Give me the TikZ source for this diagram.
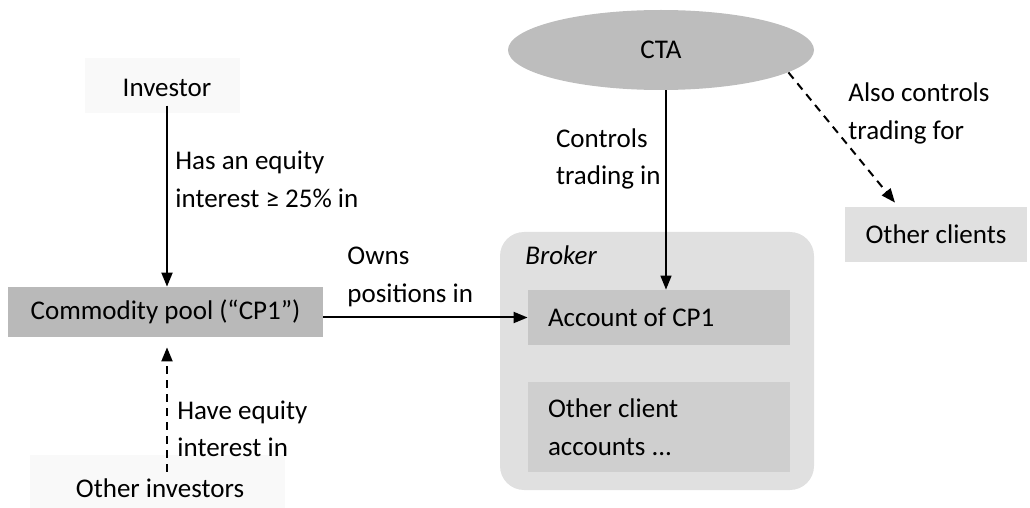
\documentclass[tikz,border=0pt]{standalone}
\usepackage{fontspec}
\setmainfont{Carlito}
\usetikzlibrary{arrows.meta,shapes.geometric}

\tikzset{
  lbl/.style={inner sep=0pt, align=left, anchor=base west},
  box/.style={draw=none, inner sep=0pt},
  arr/.style={line width=1pt, -{Triangle[length=7pt,width=5.5pt]}},
  darr/.style={arr, dash pattern=on 4pt off 3pt},
  haze/.style={fill=gray!5, draw=none},
}

\begin{document}
\begin{tikzpicture}[x=0.5pt, y=-0.5pt,
    every node/.style={font=\fontsize{13.5}{19}\selectfont}]
  \useasboundingbox (0,0) rectangle (1030,508);

  % faint backdrops behind the two investor labels
  \fill[haze] (85,58) rectangle (240,113);
  \fill[haze] (30,455) rectangle (285,508);

  % broker container
  \node[box, fill=gray!24, rounded corners=12pt, minimum width=157pt,
        minimum height=129pt] (broker) at (657,361) {};
  \node[lbl, font=\fontsize{13.5}{19}\selectfont\itshape] (brokerlbl) at (525,265) {Broker};

  % entities
  \node[inner sep=0pt, anchor=base] (inv) at (167,97) {Investor};
  \node[box, fill=gray!55, minimum width=157.5pt, minimum height=25pt] (cp)
        at (165.5,312) {Commodity pool (“CP1”)};
  \node[inner sep=0pt, anchor=base] (oinv) at (160,497) {Other investors};

  \node[box, fill=gray!45, minimum width=131pt, minimum height=27.5pt,
        text width=111pt, align=flush left] (acc) at (659,317.5) {Account of CP1};
  \node[box, fill=gray!38, minimum width=131pt, minimum height=45pt,
        text width=111pt, align=flush left] (oca) at (659,427) {Other client\\accounts ...};

  \node[ellipse, fill=gray!52, inner sep=0pt, minimum width=153pt,
        minimum height=40pt] (cta) at (661,50) {CTA};
  \node[box, fill=gray!24, minimum width=91pt, minimum height=27.5pt] (oc)
        at (936,234.5) {Other clients};

  % connectors
  \coordinate (ctax) at (666,0);
  \draw[arr] ([yshift=-4pt]inv.south) -- (inv.south |- cp.north);
  \draw[darr, shorten >=5pt] ([yshift=3pt]inv.south |- oinv.north) -- (inv.south |- cp.south);
  \draw[arr] (cp.east |- acc.west) -- (acc.west);
  \draw[arr, line width=0.7pt] (cta.south -| ctax) -- (acc.north -| ctax);
  \draw[darr] (cta.-10) -- ([xshift=-20.5pt,yshift=2pt]oc.north);

  % connector labels (base = baseline of the last line)
  \node[lbl] (l1) at (175,208) {Has an equity\\interest ≥ 25\% in};
  \node[lbl] (l2) at (177,457) {Have equity\\interest in};
  \node[lbl] (l3) at (347,303) {Owns\\positions in};
  \node[lbl, anchor=base east] (l4) at (661,185) {Controls\\trading in};
  \node[lbl] (l5) at (848,140) {Also controls\\trading for};
\end{tikzpicture}
\end{document}
